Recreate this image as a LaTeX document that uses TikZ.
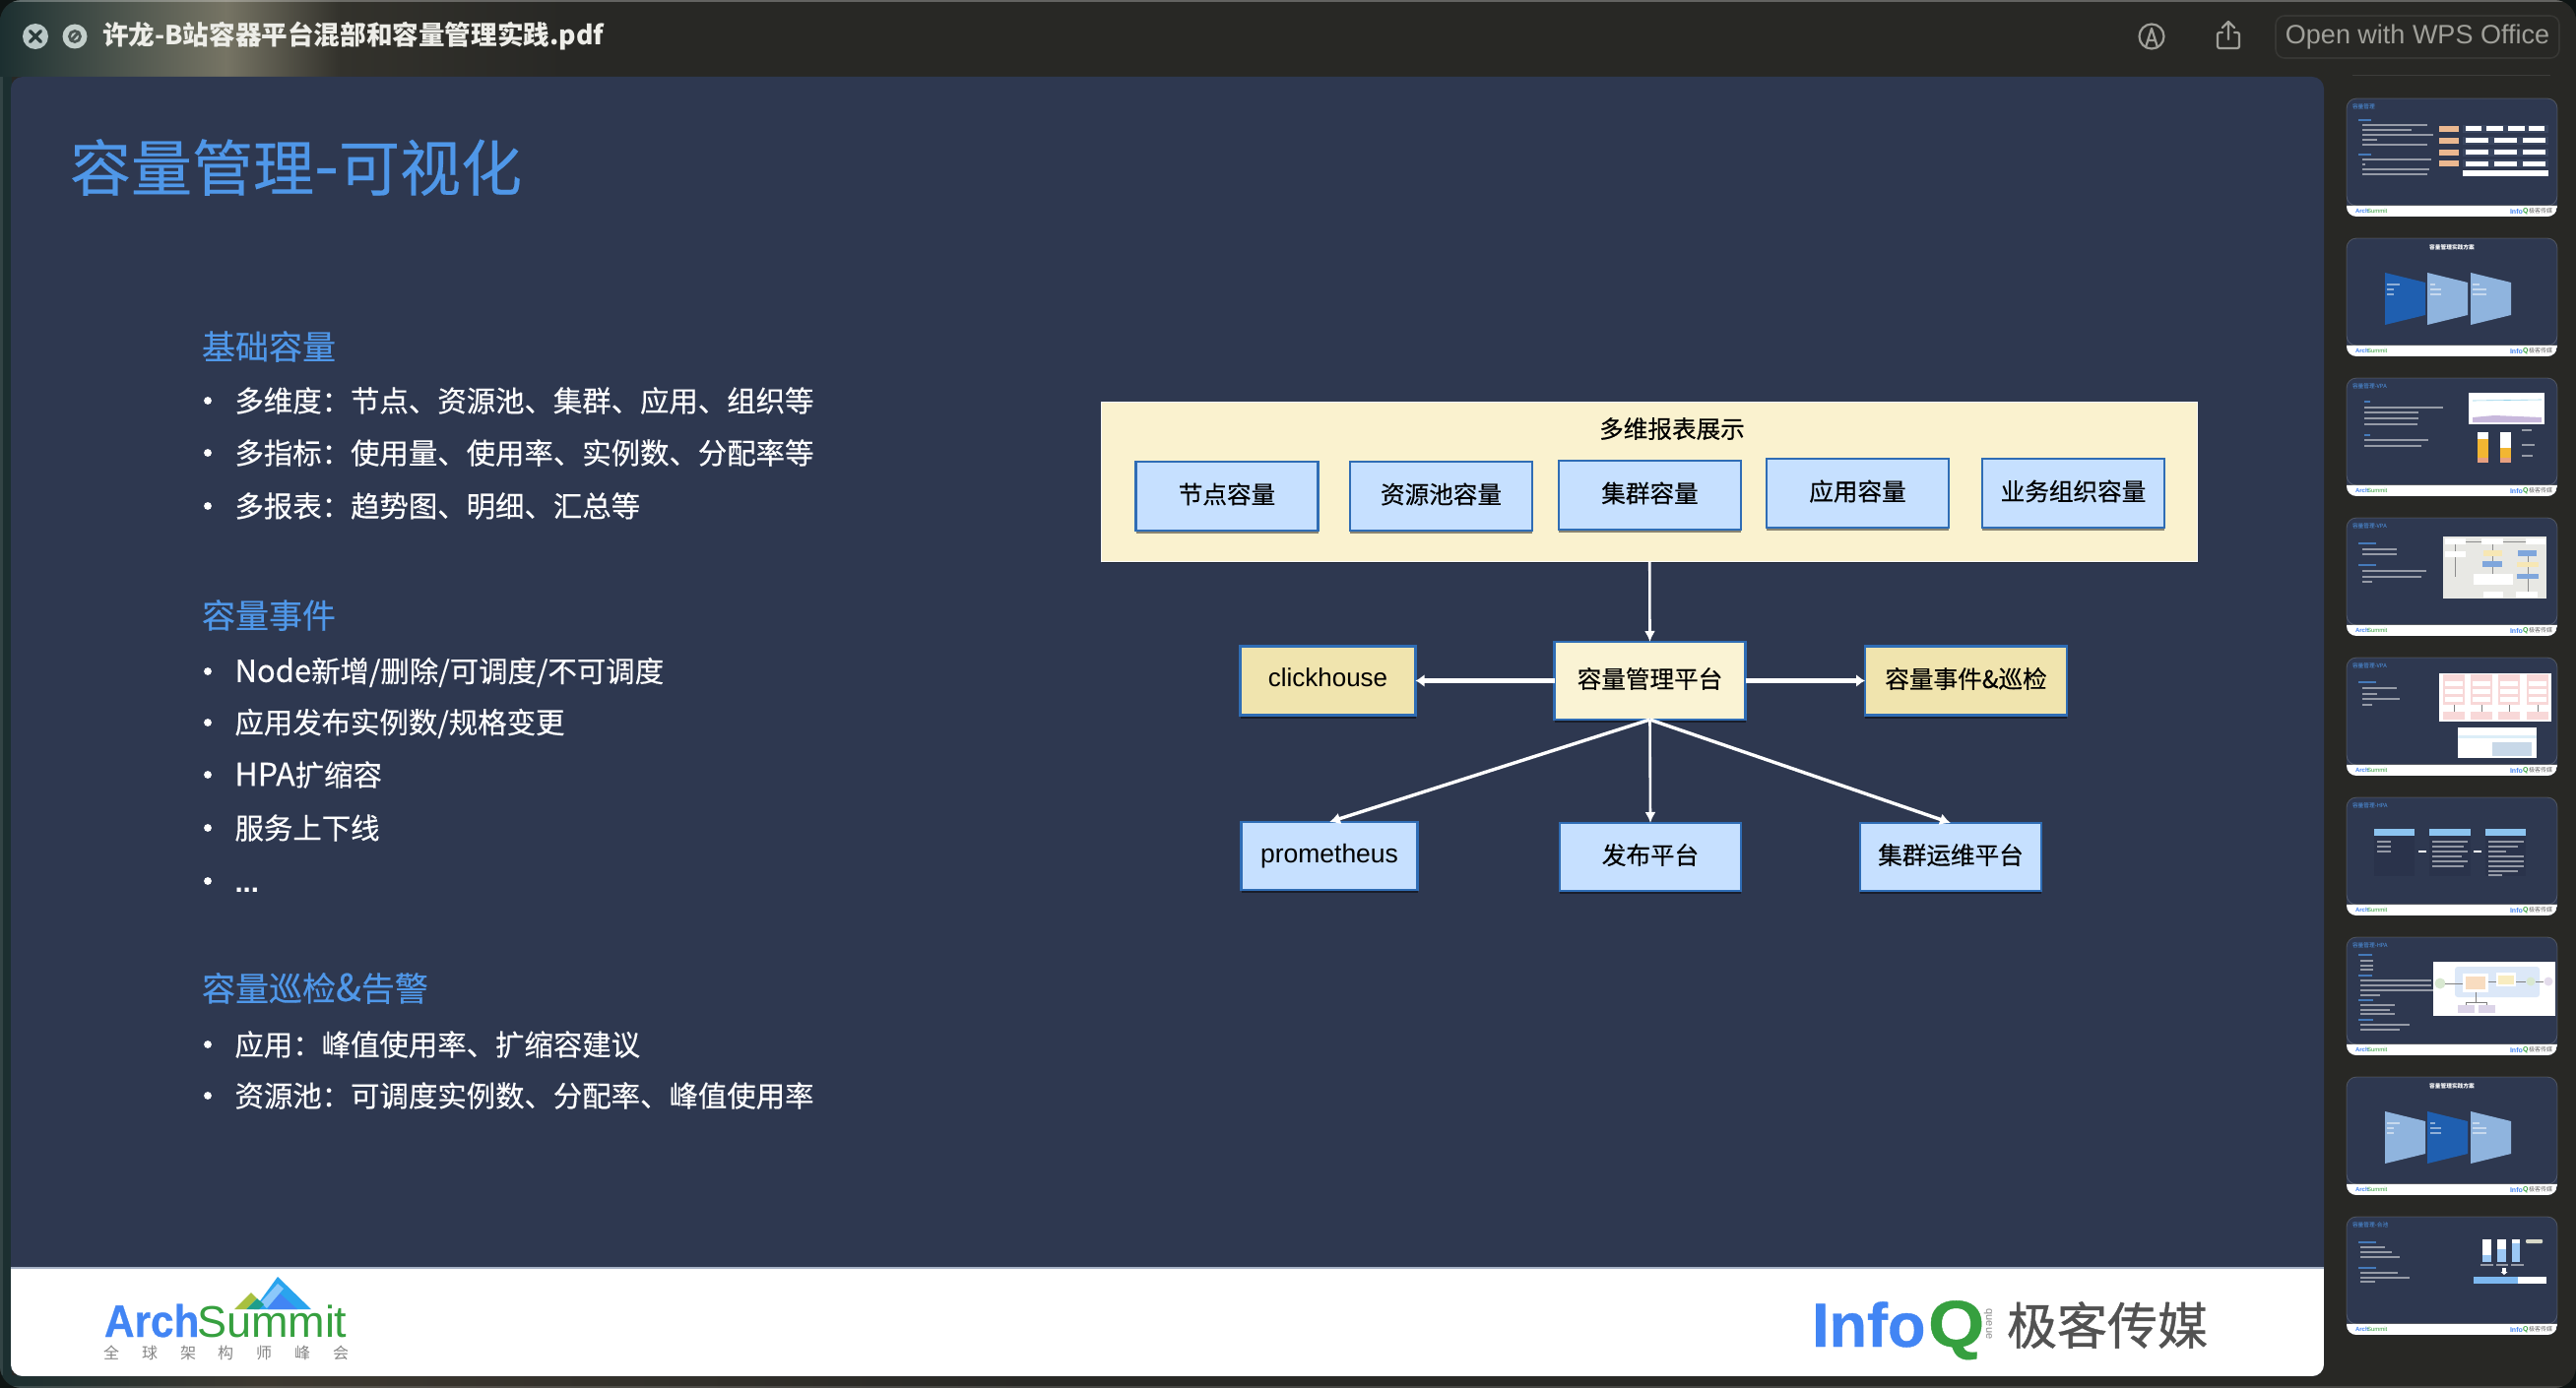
\documentclass[tikz,border=0pt]{standalone}
\usepackage{fontspec}
\setmainfont{Noto Sans CJK SC}
\newfontfamily\med[FakeBold=0.35]{Noto Sans CJK SC}
\newfontfamily\geekfont[FakeBold=0.8]{Noto Sans CJK SC}
\newfontfamily\lat{Liberation Sans}
\newfontfamily\latheavy[BoldFeatures={FakeBold=0.6}]{Liberation Sans}
\usetikzlibrary{arrows.meta,shadows}
\newcommand{\dc}[1]{\definecolor{c#1}{HTML}{#1}}
\definecolor{slidebg}{HTML}{2E3850}
\definecolor{chrome}{HTML}{282825}
\definecolor{titleblue}{HTML}{4F97E8}
\definecolor{panelfill}{HTML}{FAF2CF}
\definecolor{mgrfill}{HTML}{FAF3D4}
\definecolor{sandfill}{HTML}{F0E4AE}
\definecolor{boxblue}{HTML}{C6E0FF}
\definecolor{edgeblue}{HTML}{2F6DB5}
\definecolor{logoblue}{HTML}{4285F4}
\definecolor{logogreen}{HTML}{36A03F}
\definecolor{chromegray}{HTML}{A0A09A}
\definecolor{thumbdark}{HTML}{1F5FB0}
\definecolor{thumblight}{HTML}{8FB4DE}
\definecolor{barA}{HTML}{1C2F30}
\definecolor{barB}{HTML}{34423F}
\definecolor{barC}{HTML}{767464}
\definecolor{barD}{HTML}{33322C}
\definecolor{barE}{HTML}{3D3830}
\dc{0F1514}\dc{A8B4C8}\dc{B9C7C6}\dc{2A3A3A}\dc{C3CFCB}\dc{4A5552}\dc{EDEDE8}\dc{2AA4EE}\dc{8CC8FA}\dc{A8C040}\dc{1E9E8C}\dc{EBB890}\dc{3A4660}\dc{8FD0E8}\dc{C8B8DC}\dc{F2B632}\dc{E8A080}\dc{E8E8E4}\dc{F7E7B4}\dc{7FA6DC}\dc{F8D8D8}\dc{DCEEF8}\dc{C8D8E8}\dc{283149}\dc{8CC4F0}\dc{DCE8F8}\dc{F8DCC0}\dc{F8ECC0}\dc{D8E8D0}\dc{E4DCEC}\dc{DCD4E8}\dc{9CC8F4}\dc{7DB8F0}\dc{D8D8C8}
\pgfdeclarehorizontalshading{topbar}{100bp}{color(0bp)=(barA);color(25bp)=(barA);color(26.1bp)=(barB);color(29.4bp)=(barC);color(31.6bp)=(barD);color(36bp)=(chrome);color(100bp)=(chrome)}
\pgfdeclarehorizontalshading{bottombar}{100bp}{color(0bp)=(barA);color(25bp)=(barA);color(30bp)=(barE);color(45bp)=(chrome);color(100bp)=(chrome)}
\newcommand{\fs}[1]{\fontsize{#1}{#1}\selectfont}
\tikzset{
  every node/.style={inner sep=0pt,outer sep=0pt},
  heading/.style={anchor=west,text=titleblue,font=\med\fs{34}},
  bodyline/.style={anchor=west,text=white,font=\med\fs{29.4}},
  diagbox/.style={draw=edgeblue,line width=2.2pt,text=black,font=\med\fs{24.6},text depth=6pt,
    general shadow={fill=black,opacity=.45,shadow xshift=0pt,shadow yshift=-3pt}},
  bluebox/.style={diagbox,fill=boxblue,minimum width=185pt,minimum height=70pt},
  link/.style={draw=white,line width=2.6pt,-{Latex[length=11pt,width=11pt]}},
  thicklink/.style={draw=white,line width=4.6pt,-{Latex[length=9pt,width=13pt]}},
  midlink/.style={draw=white,line width=3.4pt,-{Latex[length=11pt,width=12pt]}},
  chromestroke/.style={draw=chromegray,line width=2.2pt,line cap=round,line join=round},
}
\newcommand{\thL}[3]{\fill[white,opacity=.5] (#1,#2-.6) rectangle ++(#3,1.2);}
\newcommand{\thH}[3]{\fill[titleblue,opacity=.7] (#1,#2-.7) rectangle ++(#3,1.4);}
\newcommand{\thumbbase}[1]{%
  \fill[slidebg,rounded corners=10pt] (0,0) rectangle (214,120);
  \begin{scope}
    \clip[rounded corners=10pt] (0,0) rectangle (214,120);
    \fill[white] (0,109) rectangle (214,120);
    \fill[barC!40!slidebg] (0,108) rectangle (214,109);
    \node[anchor=west,text=logoblue,font=\lat\bfseries\fs{6}] at (9,114.5) {Arch};
    \node[anchor=west,text=logogreen,font=\lat\fs{6}] at (21,114.5) {Summit};
    \node[anchor=west,text=logoblue,font=\lat\bfseries\fs{7}] at (166,114.5) {Info};
    \node[anchor=west,text=logogreen,font=\lat\bfseries\fs{7}] at (179,114.5) {Q};
    \node[anchor=west,text=black!60,font=\fs{6}] at (185,114.5) {极客传媒};
  \end{scope}
  \draw[white,opacity=.18,line width=.8pt,rounded corners=10pt] (0,0) rectangle (214,109);
  \node[anchor=west,text=titleblue,font=\fs{5.7}] at (6,8.4) {#1};
}
\newcommand{\trap}[3]{\fill[#3] (#1,#2) -- (#1+41,#2+10) -- (#1+41,#2+43) -- (#1,#2+53) -- cycle;}
\begin{document}
\begin{tikzpicture}[x=1pt,y=-1pt]
\useasboundingbox (0,0) rectangle (2616,1410);
\fill[c0F1514] (0,0) rectangle (2616,1410);
\begin{scope}
  \clip[rounded corners=22pt] (0,0) rectangle (2616,1410);
  \fill[chrome] (0,0) rectangle (2616,1410);
  \shade[shading=topbar] (0,0) rectangle (2616,78);
  \shade[shading=bottombar] (0,1397) rectangle (2616,1410);
  \fill[barA] (0,78) rectangle (12,1397);
  \fill[white,opacity=.28] (0,0) rectangle (2616,2);
  \fill[white,opacity=.14] (0,1408) rectangle (2616,1410);
  \fill[white,opacity=.1] (0,78) rectangle (3,1397);
\end{scope}
% slide
\fill[slidebg,rounded corners=12pt] (11,78) rectangle (2360,1398);
\begin{scope}
  \clip[rounded corners=12pt] (11,78) rectangle (2360,1398);
  \fill[white] (11,1288) rectangle (2360,1398);
  \fill[cA8B4C8] (11,1286.5) rectangle (2360,1288.5);
\end{scope}
% window chrome
\fill[cB9C7C6] (36,37) circle (13);
\draw[c2A3A3A,line width=3.4pt,line cap=round] (30.5,31.5) -- (41.5,42.5) (41.5,31.5) -- (30.5,42.5);
\fill[cC3CFCB] (76,37) circle (12.5);
\draw[c4A5552,line width=2.8pt] (76,37) circle (5.5);
\draw[c4A5552,line width=2.8pt] (71.5,42) -- (80.5,32);
\node[name=tabtitle,anchor=west,text=cEDEDE8,font=\bfseries\fs{26.6}] at (104,37) {许龙-B站容器平台混部和容量管理实践.pdf};
\draw[chromestroke] (2185,37) circle (12.5);
\draw[chromestroke] (2179,48) -- (2185,29) -- (2191,48) (2181,41) -- (2189,41);
\draw[chromestroke,rounded corners=2pt] (2257,33) -- (2252,33) -- (2252,49) -- (2274,49) -- (2274,33) -- (2269,33);
\draw[chromestroke] (2263,40) -- (2263,23) (2257,28) -- (2263,22) -- (2269,28);
\node[name=wpsbtn,draw=white,draw opacity=.07,line width=1.6pt,rounded corners=9pt,minimum width=288pt,minimum height=43pt] at (2455,37.5) {};
\node[name=wpstext,text=chromegray,font=\lat\fs{27}] at (2455,38) {Open with WPS Office};
\draw[white,opacity=.1,line width=1pt] (2389,77) -- (2590,77);
% slide title and body
\node[name=slidetitle,anchor=west,text=titleblue,font=\med\fs{62}] at (71,170) {容量管理{\fs{72}-}可视化};
\node[name=h1,heading] at (205,352) {基础容量};
\node[name=t1,bodyline] at (238.5,407) {多维度：节点、资源池、集群、应用、组织等};
\node[name=t2,bodyline] at (238.5,460) {多指标：使用量、使用率、实例数、分配率等};
\node[name=t3,bodyline] at (238.5,514) {多报表：趋势图、明细、汇总等};
\node[name=h2,heading] at (205,625) {容量事件};
\node[name=t4,bodyline] at (238.5,683) {{\fs{31}Node}新增/删除/可调度/不可调度};
\node[name=t5,bodyline] at (238.5,735) {应用发布实例数/规格变更};
\node[name=t6,bodyline] at (238.5,787) {{\fs{32}HPA}扩缩容};
\node[name=t7,bodyline] at (238.5,841) {服务上下线};
\node[name=t8,anchor=base west,text=white,font=\lat\bfseries\fs{29.4}] at (238.5,906) {...};
\node[name=h3,heading] at (205,1004) {容量巡检{\fs{38}\&}告警};
\node[name=t9,bodyline] at (238.5,1061) {应用：峰值使用率、扩缩容建议};
\node[name=t10,bodyline] at (238.5,1113) {资源池：可调度实例数、分配率、峰值使用率};
\foreach \yy in {407,460,514,682,734,787,841,895,1061,1113} \fill[white] (211,\yy) circle (3.9);
% diagram
\node[name=panel,fill=panelfill,draw=white!85!panelfill,line width=1pt,minimum width=1113pt,minimum height=162pt,
  general shadow={fill=black,opacity=.3,shadow xshift=0pt,shadow yshift=-2pt}] at (1675.25,489) {};
\node[name=paneltitle,text=black,font=\med\fs{24.6}] at (1698,435.5) {多维报表展示};
\node[name=b1,bluebox] at (1246,504) {节点容量};
\node[name=b2,bluebox] at (1463.5,504) {资源池容量};
\node[name=b3,bluebox] at (1675.5,503) {集群容量};
\node[name=b4,bluebox] at (1886.5,501) {应用容量};
\node[name=b5,bluebox] at (2105.5,501) {业务组织容量};
\node[name=mgr,diagbox,fill=mgrfill,minimum width=194pt,minimum height=79pt] at (1675.5,691.5) {容量管理平台};
\node[name=ch,diagbox,fill=sandfill,minimum width=178pt,minimum height=70pt,font=\lat\fs{26}] at (1348.5,691.5) {clickhouse};
\node[name=ev,diagbox,fill=sandfill,minimum width=205pt,minimum height=70pt] at (1996.5,691.5) {容量事件\&巡检};
\node[name=prom,diagbox,fill=boxblue,minimum width=179pt,minimum height=69pt,font=\lat\fs{26.5}] at (1350,869.5) {prometheus};
\node[name=pub,bluebox,minimum width=184pt,minimum height=69pt] at (1676,870.5) {发布平台};
\node[name=ops,bluebox,minimum width=184pt,minimum height=69pt] at (1981,870.5) {集群运维平台};
\draw[link] (panel.south) -- (mgr.north);
\draw[thicklink] (mgr.west) -- (ch.east);
\draw[thicklink] (mgr.east) -- (ev.west);
\draw[midlink] (mgr.south) -- (prom.north);
\draw[link] (mgr.south) -- (pub.north);
\draw[midlink] (mgr.south) -- (ops.north);
% ArchSummit logo
\fill[c2AA4EE] (282,1297) -- (316,1330) -- (258,1330) -- cycle;
\fill[logoblue] (282,1312) -- (302,1330) -- (272,1330) -- cycle;
\fill[c8CC8FA] (282,1304) -- (288,1309) -- (271,1329) -- (265,1323) -- cycle;
\fill[cA8C040] (238,1330) -- (255,1313) -- (261,1319) -- (250,1330) -- cycle;
\fill[c1E9E8C] (250,1330) -- (261,1319) -- (268,1325) -- (263,1330) -- cycle;
\node[name=arch,anchor=base west,text=logoblue,font=\latheavy\bfseries\fs{46},xscale=.92,transform shape] at (106,1358) {Arch};
\node[name=summit,anchor=base west,text=logogreen,font=\lat\fs{45}] at (200,1358) {Summit};
\foreach \cx/\chr in {113/全,152/球,191/架,229/构,268/师,307/峰,346/会}
  \node[text=black!48,font=\fs{16}] at (\cx,1374) {\chr};
% InfoQ logo
\node[name=info,anchor=base west,text=logoblue,font=\latheavy\bfseries\fs{63}] at (1840,1368) {Info};
\node[name=q,anchor=base west,text=logogreen,font=\latheavy\bfseries\fs{67},xscale=1.1,transform shape] at (1958,1368) {Q};
\node[name=queue,rotate=-90,text=black!45,font=\lat\fs{11}] at (2019,1345) {queue};
\node[name=geek,anchor=west,text=black!68,font=\geekfont\fs{51}] at (2038,1346) {极客传媒};
% thumbnails
\begin{scope}[shift={(2383,100)}]
  \thumbbase{容量管理}
  \thH{12}{22}{13}
  \foreach \y/\w in {27/66,32/50,37/72,42/15,47/66,62/70,67/3,72/68,77/66} {\thL{15.7}{\y}{\w}}
  \thH{12}{57}{13}
  \foreach \y in {30.7,42.7,54.7,66.3} {
    \fill[cEBB890] (94,\y-3) rectangle (114,\y+3);
    \fill[c3A4660] (118,\y-4) rectangle (205,\y+4);
  }
  \foreach \pa/\pb in {121/137,142/159,164/181,185/201} \fill[white] (\pa,28.2) rectangle (\pb,33.2);
  \foreach \y in {42.7,54.7,66.3} \foreach \pa/\pb in {121/144,150/173,179/202} \fill[white] (\pa,\y-2.5) rectangle (\pb,\y+2.5);
  \fill[white] (118,73) rectangle (205,79);
\end{scope}
\begin{scope}[shift={(2383,242)}]
  \thumbbase{}
  \node[text=white,font=\bfseries\fs{5.7}] at (107,9) {容量管理实践方案};
  \trap{39}{35}{thumbdark}\trap{82}{35}{thumblight}\trap{126}{35}{thumblight}
  \foreach \x/\y/\w in {41/47/13,41/52/7,41/57/7,85/47/5,85/52/11,85/57/11,128/47/7,128/52/14,128/57/14} {\thL{\x}{\y}{\w}}
\end{scope}
\begin{scope}[shift={(2383,384)}]
  \thumbbase{容量管理-VPA}
  \thH{18}{24}{6}\thH{18}{58}{6}
  \foreach \y/\w in {30/80,35/55,41/55,47/54,63/65,69/58} {\thL{18}{\y}{\w}}
  \fill[white] (124,15) rectangle (201,47);
  \draw[c8FD0E8,line width=.6pt] (128,23) -- (198,22);
  \fill[cC8B8DC] (128,40) -- (150,38) -- (198,40) -- (198,45) -- (128,45) -- cycle;
  \fill[white] (133,55) rectangle (144,86);
  \fill[cF2B632] (133,62) rectangle (144,81);
  \fill[cE8A080] (133,81) rectangle (144,86);
  \fill[white] (156,55) rectangle (167,86);
  \fill[cF2B632] (156,71) rectangle (167,81);
  \fill[cE8A080] (156,81) rectangle (167,86);
  \thL{178}{53}{10}\thL{178}{68}{13}\thL{178}{79}{11}
\end{scope}
\begin{scope}[shift={(2383,526)}]
  \thumbbase{容量管理-VPA}
  \thH{12}{26}{18}\thH{12}{48}{18}
  \foreach \y/\w in {32/35,37/35,54/65,60/60,65/10} {\thL{16}{\y}{\w}}
  \fill[cE8E8E4] (98,19) rectangle (203,82);
  \foreach \pa/\pb/\pc/\pd in {100/21/121/27,137/21/159/27,182/21/202/27,100/34/121/40,129/57/169/68,139/75/159/81,172/75/194/81} \fill[white] (\pa,\pb) rectangle (\pc,\pd);
  \foreach \pa/\pb/\pc/\pd in {139/33/158/39,173/45/195/50} \fill[cF7E7B4] (\pa,\pb) rectangle (\pc,\pd);
  \foreach \pa/\pb/\pc/\pd in {138/44/158/50,174/33/193/39,173/57/195/62} \fill[c7FA6DC] (\pa,\pb) rectangle (\pc,\pd);
  \draw[black!45,line width=.4pt] (121,24) -- (137,24) (159,24) -- (182,24) (148,27) -- (148,33) (148,39) -- (148,44) (148,50) -- (148,57) (184,39) -- (184,45) (184,50) -- (184,57) (184,62) -- (184,75) (110,27) -- (110,34) (110,40) -- (110,60);
\end{scope}
\begin{scope}[shift={(2383,668)}]
  \thumbbase{容量管理-VPA}
  \thH{12}{25}{18}
  \foreach \y/\w in {31/35,37/15,42/38,48/10} {\thL{16}{\y}{\w}}
  \fill[white] (94,16) rectangle (208,65);
  \foreach \pa/\pb in {98/120,126/148,154/176,183/205} {
    \fill[cF8D8D8] (\pa,17) rectangle (\pb,48);
    \foreach \yy in {24,32,40} \fill[white] (\pa+2,\yy) rectangle (\pb-2,\yy+5);
    \fill[cF8D8D8] (\pa,55) rectangle (\pb,63);
    \draw[black!50,line width=.4pt] ({(\pa+\pb)/2},48) -- ({(\pa+\pb)/2},55);
  }
  \fill[white] (113,71) rectangle (193,102);
  \fill[cDCEEF8] (113,79) rectangle (193,82);
  \fill[cC8D8E8] (148,86) rectangle (188,100);
\end{scope}
\begin{scope}[shift={(2383,810)}]
  \thumbbase{容量管理-HPA}
  \foreach \pa/\pb in {28/69,84/126,141/182} {
    \fill[c283149,opacity=.6] (\pa,39) rectangle (\pb,80);
    \fill[c8CC4F0] (\pa,32) rectangle (\pb,39);
  }
  \foreach \y in {45,50,55} {\thL{31}{\y}{14}}
  \foreach \y/\w in {45/36,50/32,55/36,60/30,65/36,70/32} {\thL{87}{\y}{\w}}
  \foreach \y/\w in {45/36,50/30,55/18,60/36,65/36,70/36,75/30,79/14} {\thL{144}{\y}{\w}}
  \fill[white] (73,54) rectangle (81,56.4);
  \fill[white] (129,54) rectangle (137,56.4);
\end{scope}
\begin{scope}[shift={(2383,952)}]
  \thumbbase{容量管理-HPA}
  \foreach \y/\w in {18/14,39/14,64/15,84/15} {\thH{12}{\y}{\w}}
  \foreach \y/\w in {24/13,29/13,33/13,44/72,49/72,54/75,59/20,69/35,74/30,78/35,89/50,94/40} {\thL{14}{\y}{\w}}
  \fill[white] (88,25) rectangle (212,80);
  \fill[cDCE8F8,rounded corners=3pt] (110,30) rectangle (196,61);
  \fill[white] (118,37) rectangle (144,56);
  \fill[cF8DCC0] (121,40) rectangle (141,53);
  \fill[white] (152,36) rectangle (172,50);
  \fill[cF8ECC0] (154,39) rectangle (170,48);
  \fill[cD8E8D0] (95,47) circle (5.5);
  \fill[cD8E8D0] (187,45) circle (4.5);
  \fill[cE4DCEC] (205,45) circle (4.5);
  \fill[cDCD4E8] (113,69) rectangle (130,77);
  \fill[cDCD4E8] (134,69) rectangle (151,77);
  \draw[black!50,line width=.4pt] (100,47) -- (118,47) (144,45) -- (152,45) (172,45) -- (182,45) (192,45) -- (200,45) (131,56) -- (131,66) (121,66) -- (142,66) (121,66) -- (121,69) (142,66) -- (142,69);
\end{scope}
\begin{scope}[shift={(2383,1094)}]
  \thumbbase{}
  \node[text=white,font=\bfseries\fs{5.7}] at (107,9) {容量管理实践方案};
  \trap{39}{35}{thumblight}\trap{82}{35}{thumbdark}\trap{126}{35}{thumblight}
  \foreach \x/\y/\w in {41/47/13,41/52/7,41/57/7,85/47/5,85/52/11,85/57/11,128/47/7,128/52/14,128/57/14} {\thL{\x}{\y}{\w}}
\end{scope}
\begin{scope}[shift={(2383,1236)}]
  \thumbbase{容量管理-合池}
  \thH{12}{26}{18}\thH{12}{52}{18}
  \foreach \y/\w in {31/25,36/32,41/40,57/38,62/50,66/15} {\thL{14}{\y}{\w}}
  \foreach \pa/\pb/\pt in {138/147/39,153/162/33,168/176/27} {
    \fill[white] (\pa,23) rectangle (\pb,46);
    \fill[c9CC8F4] (\pa,\pt) rectangle (\pb,46);
  }
  \thL{136}{49}{13}\thL{152}{49}{12}\thL{167}{49}{13}
  \fill[white] (158,52) rectangle (162,56);
  \fill[white] (156.5,56) -- (163.5,56) -- (160,59) -- cycle;
  \fill[white] (129,61) rectangle (203,68);
  \fill[c7DB8F0] (129,61) rectangle (174,68);
  \fill[cD8D8C8,rounded corners=1pt] (182,23) rectangle (199,27);
\end{scope}
\end{tikzpicture}
\end{document}
